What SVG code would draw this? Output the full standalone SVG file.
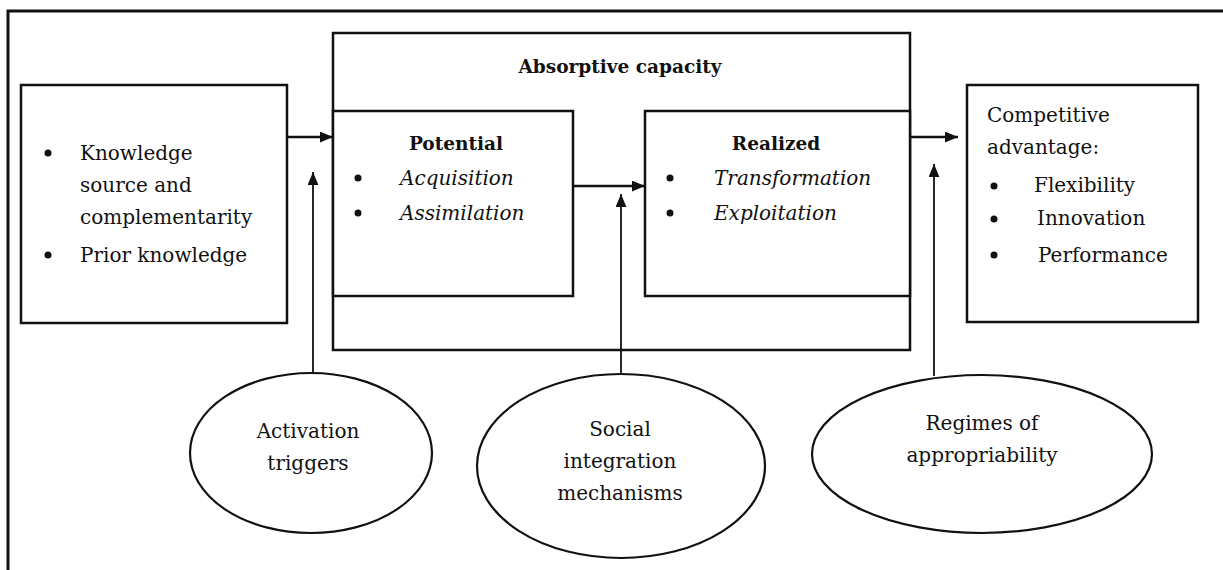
<svg xmlns="http://www.w3.org/2000/svg" width="1223" height="570" viewBox="0 0 1223 570">
<defs>
<marker id="ah" viewBox="0 0 12 10" refX="12" refY="5" markerWidth="13" markerHeight="11" markerUnits="userSpaceOnUse" orient="auto">
<path d="M0,0 L12,5 L0,10 z" fill="#111"/>
</marker>
<style>
.box{fill:#fff;stroke:#111;stroke-width:2.5}
.ell{fill:#fff;stroke:#111;stroke-width:2.2}
.t{font-family:"DejaVu Serif","Liberation Serif",serif;font-size:20px;fill:#111}
.b{font-weight:bold;font-size:18.5px}
.i{font-style:italic}
.c{text-anchor:middle}
.con{stroke:#111;stroke-width:2.5;fill:none}
.thin{stroke:#111;stroke-width:1.8;fill:none}
</style>
</defs>
<rect width="1223" height="570" fill="#fff"/>
<path d="M1223,11 L8,11 L8,570" fill="none" stroke="#111" stroke-width="3"/>

<g id="knowledge">
<rect class="box" x="21" y="85" width="266" height="238"/>
<circle cx="48" cy="153" r="3.5" fill="#111"/>
<circle cx="48" cy="255" r="3.5" fill="#111"/>
<text class="t" x="80" y="160">Knowledge</text>
<text class="t" x="80" y="192">source and</text>
<text class="t" x="80" y="224">complementarity</text>
<text class="t" x="80" y="262">Prior knowledge</text>
</g>

<g id="absorptive">
<rect class="box" x="333" y="33" width="577" height="317"/>
<text class="t b c" x="620" y="73">Absorptive capacity</text>
</g>

<g id="potential">
<rect class="box" x="333" y="111" width="240" height="185"/>
<text class="t b c" x="456" y="150">Potential</text>
<circle cx="358" cy="178" r="3.5" fill="#111"/>
<circle cx="358" cy="213" r="3.5" fill="#111"/>
<text class="t i" x="400" y="185">Acquisition</text>
<text class="t i" x="400" y="220">Assimilation</text>
</g>

<g id="realized">
<rect class="box" x="645" y="111" width="265" height="185"/>
<text class="t b c" x="776" y="150">Realized</text>
<circle cx="670" cy="178" r="3.5" fill="#111"/>
<circle cx="670" cy="213" r="3.5" fill="#111"/>
<text class="t i" x="714" y="185">Transformation</text>
<text class="t i" x="714" y="220">Exploitation</text>
</g>

<g id="competitive">
<rect class="box" x="967" y="85" width="231" height="237"/>
<text class="t" x="987" y="122">Competitive</text>
<text class="t" x="987" y="154">advantage:</text>
<circle cx="994" cy="186" r="3.5" fill="#111"/>
<circle cx="994" cy="219" r="3.5" fill="#111"/>
<circle cx="994" cy="255" r="3.5" fill="#111"/>
<text class="t" x="1034" y="192">Flexibility</text>
<text class="t" x="1037" y="225">Innovation</text>
<text class="t" x="1038" y="262">Performance</text>
</g>

<g id="activation">
<ellipse class="ell" cx="311" cy="453" rx="121" ry="80"/>
<text class="t c" x="308" y="438">Activation</text>
<text class="t c" x="308" y="470">triggers</text>
</g>

<g id="social">
<ellipse class="ell" cx="621" cy="466" rx="144" ry="92"/>
<text class="t c" x="620" y="436">Social</text>
<text class="t c" x="620" y="468">integration</text>
<text class="t c" x="620" y="500">mechanisms</text>
</g>

<g id="regimes">
<ellipse class="ell" cx="982" cy="454" rx="170" ry="79"/>
<text class="t c" x="982" y="430">Regimes of</text>
<text class="t c" x="982" y="462">appropriability</text>
</g>

<g id="connectors">
<line class="con" x1="287" y1="137" x2="333" y2="137" marker-end="url(#ah)"/>
<line class="con" x1="573" y1="186" x2="645" y2="186" marker-end="url(#ah)"/>
<line class="con" x1="910" y1="137" x2="958" y2="137" marker-end="url(#ah)"/>
<line class="thin" x1="313" y1="373" x2="313" y2="172" marker-end="url(#ah)"/>
<line class="thin" x1="621" y1="374" x2="621" y2="194" marker-end="url(#ah)"/>
<line class="thin" x1="934" y1="376" x2="934" y2="164" marker-end="url(#ah)"/>
</g>
</svg>
